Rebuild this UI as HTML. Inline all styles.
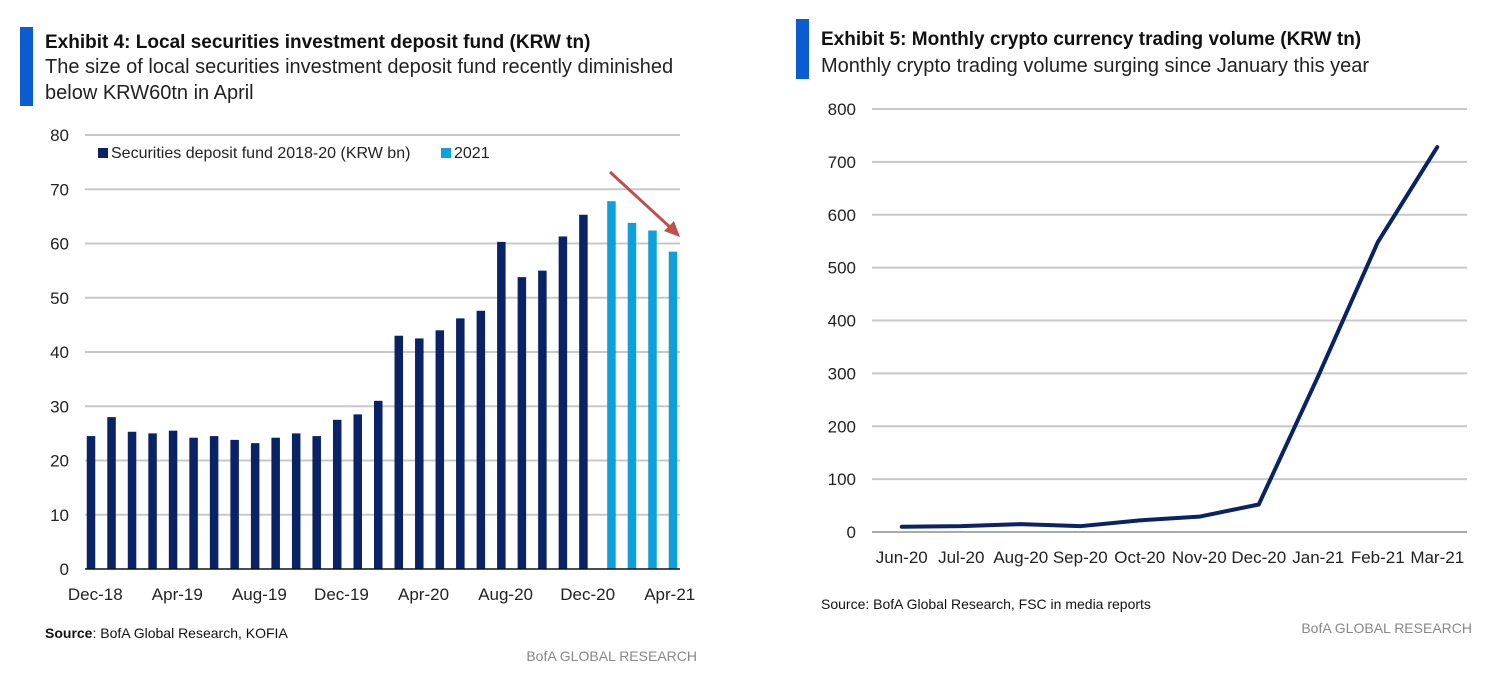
<!DOCTYPE html>
<html><head><meta charset="utf-8"><style>
body{margin:0;background:#fff;width:1497px;height:675px;overflow:hidden;font-family:"Liberation Sans Narrow","Liberation Sans",sans-serif;}
svg text{font-family:"Liberation Sans Narrow","Liberation Sans",sans-serif;}
</style></head><body>
<svg id="c" width="1497" height="675" xmlns="http://www.w3.org/2000/svg">
<g>
<rect x="20" y="27" width="13" height="79" fill="#0b5bd3"/>
<text x="45" y="48" font-size="19" font-weight="bold" fill="#111">Exhibit 4: Local securities investment deposit fund (KRW tn)</text>
<text x="45" y="73" font-size="20" fill="#222">The size of local securities investment deposit fund recently diminished</text>
<text x="45" y="99" font-size="20" fill="#222">below KRW60tn in April</text>
</g>
<g>
<rect x="796" y="19" width="13" height="60" fill="#0b5bd3"/>
<text x="821" y="45" font-size="19" font-weight="bold" fill="#111">Exhibit 5: Monthly crypto currency trading volume (KRW tn)</text>
<text x="821" y="72" font-size="20" fill="#222">Monthly crypto trading volume surging since January this year</text>
</g>
<g id="left"></g>
<g id="right"></g>
<g>
<rect x="98" y="148" width="10" height="10" fill="#0a2266"/>
<text x="111" y="158" font-size="16" fill="#222">Securities deposit fund 2018-20 (KRW bn)</text>
<rect x="441" y="148" width="10" height="10" fill="#0ea0dc"/>
<text x="454" y="158" font-size="16" fill="#222">2021</text>
</g>
<g>
<line x1="610" y1="172" x2="672" y2="229" stroke="#c0504d" stroke-width="3"/>
<polygon points="680,237 664,231 674,221" fill="#c0504d"/>
</g>
<text x="45" y="638" font-size="14" fill="#111"><tspan font-weight="bold">Source</tspan>:  BofA Global Research, KOFIA</text>
<text x="697" y="661" font-size="14" fill="#888" text-anchor="end">BofA GLOBAL RESEARCH</text>
<text x="821" y="609" font-size="14" fill="#111">Source:  BofA Global Research, FSC in media reports</text>
<text x="1472" y="633" font-size="14" fill="#888" text-anchor="end">BofA GLOBAL RESEARCH</text>
</svg>
<script>
const leftCats=["Dec-18","Jan-19","Feb-19","Mar-19","Apr-19","May-19","Jun-19","Jul-19","Aug-19","Sep-19","Oct-19","Nov-19","Dec-19","Jan-20","Feb-20","Mar-20","Apr-20","May-20","Jun-20","Jul-20","Aug-20","Sep-20","Oct-20","Nov-20","Dec-20","Jan-21","Feb-21","Mar-21","Apr-21"];
const fund2018_20=[24.5,28,25.3,25,25.5,24.2,24.5,23.8,23.2,24.2,25,24.5,27.5,28.5,31,43,42.5,44,46.2,47.6,60.3,53.8,55,61.3,65.3,null,null,null,null];
const fund2021=[null,null,null,null,null,null,null,null,null,null,null,null,null,null,null,null,null,null,null,null,null,null,null,null,null,67.8,63.8,62.4,58.5];
const leftTicks=[0,10,20,30,40,50,60,70,80];
const leftLabelIdx=[0,4,8,12,16,20,24,28];
const rightCats=["Jun-20","Jul-20","Aug-20","Sep-20","Oct-20","Nov-20","Dec-20","Jan-21","Feb-21","Mar-21"];
const cryptoVol=[10,11,15,11,22,29,52,295,548,728];
const rightTicks=[0,100,200,300,400,500,600,700,800];
const NS="http://www.w3.org/2000/svg";
function mk(p,t,a){const e=document.createElementNS(NS,t);for(const k in a)e.setAttribute(k,a[k]);p.appendChild(e);return e;}
// left
const L=document.getElementById('left');
const lx0=85,lx1=680,ly0=569,ly1=135;
const ly=v=>ly0-(v/80)*(ly0-ly1);
const bw=(lx1-lx0)/leftCats.length;
const lc=i=>lx0+bw*(i+0.5);
leftTicks.forEach(t=>{
 if(t>0){const g=mk(L,'line',{x1:lx0,x2:lx1,y1:ly(t),y2:ly(t),stroke:'#c8c8c8','stroke-width':2});
 
 }
 const tx=mk(L,'text',{x:69,y:ly(t)+6,'font-size':17,'text-anchor':'end',fill:'#222'});tx.textContent=t;
 
 
});
fund2018_20.forEach((v,i)=>{if(v==null)return;
 const r=mk(L,'rect',{x:lc(i)-8.5,y:ly(v),width:8.5,height:ly0-ly(v),fill:'#0a2266'});
 
 });
fund2021.forEach((v,i)=>{if(v==null)return;
 const r=mk(L,'rect',{x:lc(i)-1,y:ly(v),width:8.5,height:ly0-ly(v),fill:'#0ea0dc'});
 
 });
const ax=mk(L,'line',{x1:lx0,x2:lx1,y1:ly0,y2:ly0,stroke:'#111','stroke-width':1.5});


leftLabelIdx.forEach(i=>{const t=mk(L,'text',{x:lc(i),y:600,'font-size':17,'text-anchor':'middle',fill:'#222'});t.textContent=leftCats[i];
 
 });
// right
const R=document.getElementById('right');
const rx0=872,rx1=1467,ry0=532,ry1=109;
const ry=v=>ry0-(v/800)*(ry0-ry1);
const rw=(rx1-rx0)/rightCats.length;
const rc=i=>rx0+rw*(i+0.5);
rightTicks.forEach(t=>{
 const g=mk(R,'line',{x1:rx0,x2:rx1,y1:ry(t),y2:ry(t),stroke:t==0?'#aaa':'#c8c8c8','stroke-width':2});
 
 
 const tx=mk(R,'text',{x:856,y:ry(t)+6,'font-size':17,'text-anchor':'end',fill:'#222'});tx.textContent=t;
 
 
});
rightCats.forEach((c,i)=>{const t=mk(R,'text',{x:rc(i),y:563,'font-size':17,'text-anchor':'middle',fill:'#222'});t.textContent=c;
 
 });
const ln=mk(R,'polyline',{points:cryptoVol.map((v,i)=>rc(i)+','+ry(v)).join(' '),fill:'none',stroke:'#0a2266','stroke-width':4,'stroke-linejoin':'round','stroke-linecap':'round'});


</script>
</body></html>
